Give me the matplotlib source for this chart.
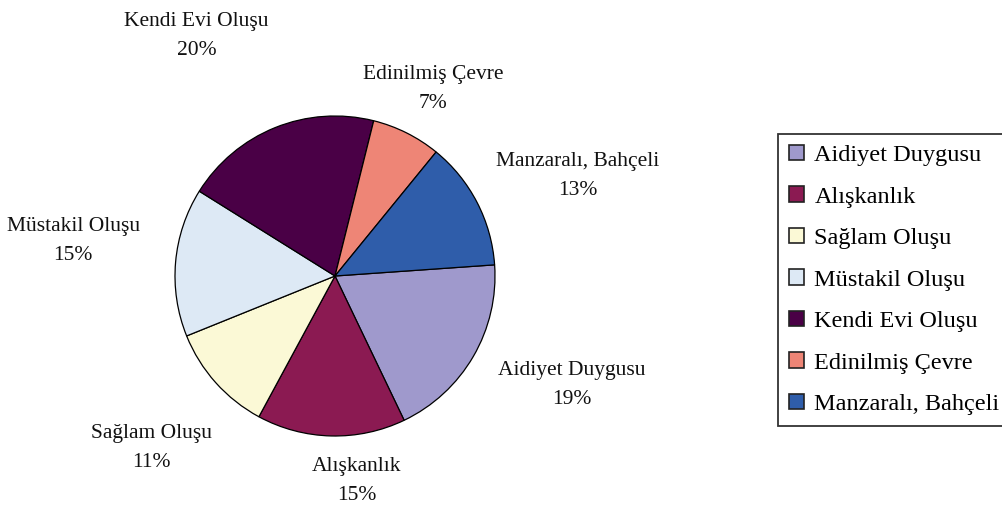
import numpy as np
import matplotlib
matplotlib.use("Agg")
from matplotlib import pyplot as plt

# pie: reasons for preferring the house (percent)
categories = ["Aidiyet Duygusu", "Alışkanlık", "Sağlam Oluşu", "Müstakil Oluşu",
              "Kendi Evi Oluşu", "Edinilmiş Çevre", "Manzaralı, Bahçeli"]
values = [19, 15, 11, 15, 20, 7, 13]
colors = ["#9F99CC", "#8B1A52", "#FBF9D6", "#DDE9F5", "#4A0046", "#EE8576", "#2F5DAA"]

# label placement: distance (in radii) and small angle nudge (deg) from wedge middle
label_dist = [1.63, 1.29, 1.57, 1.65, 1.73, 1.32, 1.64]
label_nudge = [5.5, 7.5, 1.4, -2.6, 8.0, -1.1, -5.0]

plt.rcParams['font.family'] = ['Liberation Serif', 'DejaVu Serif']


def main():
    fig = plt.figure(figsize=(10.02, 5.12), dpi=100)
    ax = fig.add_axes([0, 0, 1, 1])

    wedges, _ = ax.pie(values, colors=colors, startangle=4, counterclock=False,
                       radius=1.0,
                       wedgeprops=dict(edgecolor="black", linewidth=0.9))

    total = float(sum(values))
    for w, name, v, d, n in zip(wedges, categories, values, label_dist, label_nudge):
        mid = np.deg2rad((w.theta1 + w.theta2) / 2.0 + n)
        ax.text(d * np.cos(mid), d * np.sin(mid),
                "{}\n{:.0f}%".format(name, v / total * 100),
                ha="center", va="center", fontsize=15.5, linespacing=1.74,
                color="#111111")

    # keep 160 px per unit, centre at (335, 276) px
    ax.set_xlim(-335 / 160.0, (1002 - 335) / 160.0)
    ax.set_ylim(-(512 - 276) / 160.0, 276 / 160.0)
    ax.axis("off")

    leg = fig.legend(wedges, categories, loc="upper left",
                     bbox_to_anchor=(778 / 1002.0, 1 - 134 / 512.0),
                     bbox_transform=fig.transFigure, borderaxespad=0,
                     fontsize=17.5, frameon=True, fancybox=False,
                     handlelength=0.6, handleheight=0.6, handletextpad=0.45,
                     labelspacing=0.83, borderpad=0.45)
    leg.get_frame().set_edgecolor("black")
    leg.get_frame().set_linewidth(1.3)
    for h in leg.legend_handles:
        h.set_edgecolor("#222222")
        h.set_linewidth(1.2)

    fig.savefig("out.png", dpi=100)


if __name__ == "__main__":
    main()
